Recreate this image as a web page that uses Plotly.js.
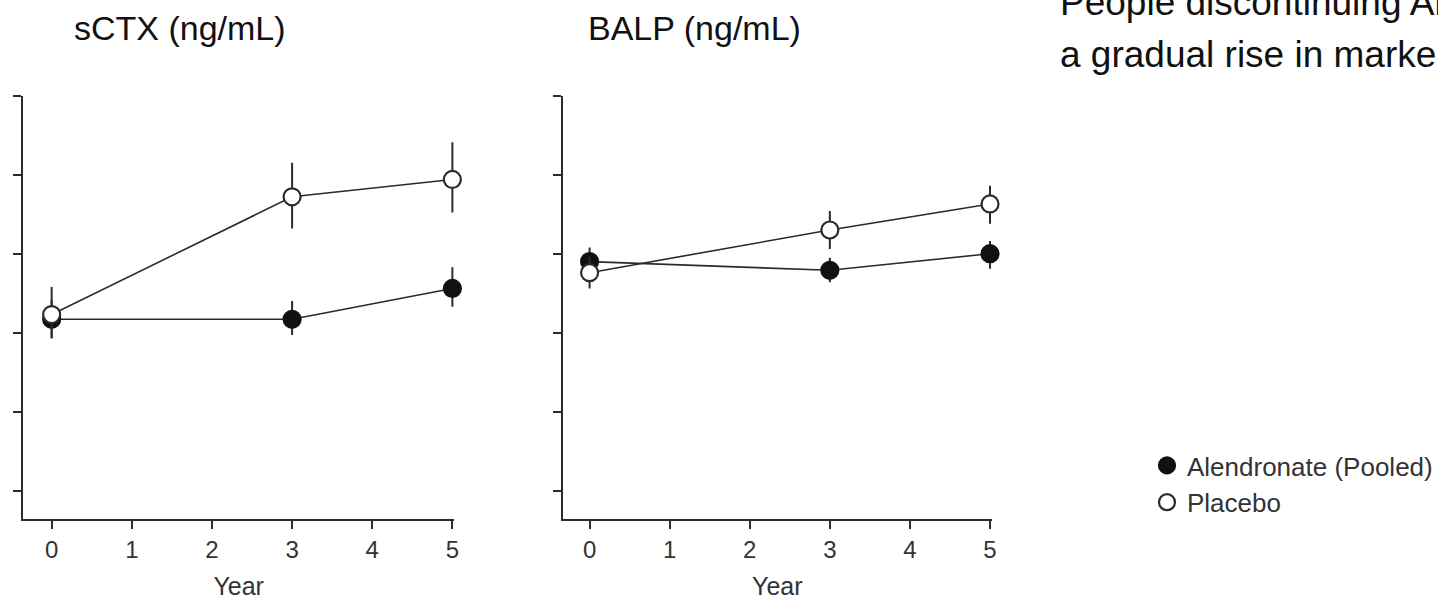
<!DOCTYPE html>
<html>
<head>
<meta charset="utf-8">
<script src="https://cdn.plot.ly/plotly-3.0.1.min.js"></script>
<style>
  html, body { margin: 0; padding: 0; background: #ffffff; }
  #chart { width: 1438px; height: 601px; }
</style>
</head>
<body>
<div id="chart"></div>
<script>
// ---- data (y in unlabeled axis units) ----
const years = [0, 3, 5];
const xTickVals = [0, 1, 2, 3, 4, 5];
const xTickLabels = ['0', '1', '2', '3', '4', '5'];
const yTickVals = [0, 1, 2, 3, 4, 5];
const seriesNames = ['Alendronate (Pooled)', 'Placebo'];
const panelTitles = ['sCTX (ng/mL)', 'BALP (ng/mL)'];
const xAxisTitle = 'Year';
const noteLines = ['People discontinuing Alendronate', 'a gradual rise in markers'];

const sctxAlendronate = [2.17, 2.17, 2.56];
const sctxAlendronateErrPlus = [0.24, 0.23, 0.27];
const sctxAlendronateErrMinus = [0.24, 0.20, 0.23];
const sctxPlacebo = [2.23, 3.72, 3.94];
const sctxPlaceboErrPlus = [0.35, 0.43, 0.47];
const sctxPlaceboErrMinus = [0.30, 0.40, 0.42];

const balpAlendronate = [2.90, 2.79, 3.00];
const balpAlendronateErrPlus = [0.18, 0.16, 0.16];
const balpAlendronateErrMinus = [0.15, 0.15, 0.19];
const balpPlacebo = [2.76, 3.30, 3.63];
const balpPlaceboErrPlus = [0.20, 0.24, 0.23];
const balpPlaceboErrMinus = [0.20, 0.24, 0.25];

// ---- styling ----
const FONT = '"Liberation Sans", Arial, Helvetica, sans-serif';
const INK = '#2b2b2b';
const W = 1438, H = 601;
const px = v => v / W;
const py = v => 1 - v / H;

function lineTrace(x, y, xa, ya) {
  return {
    x: x, y: y, xaxis: xa, yaxis: ya, type: 'scatter', mode: 'lines',
    line: { color: INK, width: 1.6 }, showlegend: false, hoverinfo: 'skip'
  };
}
function markerTrace(name, x, y, plus, minus, filled, xa, ya, showLegend) {
  return {
    name: name, x: x, y: y, xaxis: xa, yaxis: ya, type: 'scatter', mode: 'markers',
    cliponaxis: false,
    marker: {
      symbol: 'circle', size: 17,
      color: filled ? '#111111' : '#ffffff',
      line: { color: filled ? '#111111' : INK, width: 2.2 }
    },
    error_y: {
      type: 'data', symmetric: false, array: plus, arrayminus: minus,
      color: INK, thickness: 2, width: 0
    },
    showlegend: showLegend, legendgroup: name
  };
}

const data = [
  lineTrace(years, sctxAlendronate, 'x', 'y'),
  lineTrace(years, sctxPlacebo, 'x', 'y'),
  lineTrace(years, balpAlendronate, 'x2', 'y2'),
  lineTrace(years, balpPlacebo, 'x2', 'y2'),
  markerTrace(seriesNames[0], years, sctxAlendronate, sctxAlendronateErrPlus, sctxAlendronateErrMinus, true, 'x', 'y', true),
  markerTrace(seriesNames[1], years, sctxPlacebo, sctxPlaceboErrPlus, sctxPlaceboErrMinus, false, 'x', 'y', true),
  markerTrace(seriesNames[0], years, balpAlendronate, balpAlendronateErrPlus, balpAlendronateErrMinus, true, 'x2', 'y2', false),
  markerTrace(seriesNames[1], years, balpPlacebo, balpPlaceboErrPlus, balpPlaceboErrMinus, false, 'x2', 'y2', false)
];

function xAxis(domain, range, anchor) {
  return {
    domain: domain, range: range, anchor: anchor,
    tickmode: 'array', tickvals: xTickVals, ticktext: xTickLabels,
    ticks: 'outside', ticklen: 8, tickwidth: 2, tickcolor: INK,
    showline: true, linecolor: INK, linewidth: 2,
    showgrid: false, zeroline: false, fixedrange: true,
    tickfont: { family: FONT, size: 24, color: '#333333' },
    title: { text: xAxisTitle, font: { family: FONT, size: 25, color: '#333333' }, standoff: 16 }
  };
}
function yAxis(domain, range, anchor) {
  return {
    domain: domain, range: range, anchor: anchor,
    tickmode: 'array', tickvals: yTickVals, showticklabels: false,
    ticks: 'outside', ticklen: 8, tickwidth: 2, tickcolor: INK,
    showline: true, linecolor: INK, linewidth: 2,
    showgrid: false, zeroline: false, fixedrange: true
  };
}

const yDomain = [py(519), py(95.7)];
const yRange = [-0.358, 5];

const layout = {
  width: W, height: H,
  margin: { l: 0, r: 0, t: 0, b: 0, pad: 0 },
  paper_bgcolor: '#ffffff', plot_bgcolor: '#ffffff',
  font: { family: FONT, color: '#222222' },
  showlegend: true,
  xaxis: xAxis([px(23.3), px(454.3)], [-0.354, 5.02], 'y'),
  yaxis: yAxis(yDomain, yRange, 'x'),
  xaxis2: xAxis([px(563.3), px(992.3)], [-0.333, 5.02], 'y2'),
  yaxis2: yAxis(yDomain, yRange, 'x2'),
  legend: {
    x: px(1148), y: py(442), xanchor: 'left', yanchor: 'top',
    bgcolor: 'rgba(0,0,0,0)', borderwidth: 0,
    font: { family: FONT, size: 26, color: '#333333' },
    itemclick: false, itemdoubleclick: false, tracegroupgap: 0
  },
  annotations: [
    { text: panelTitles[0], xref: 'paper', yref: 'paper', x: px(72), y: py(28),
      xanchor: 'left', yanchor: 'middle', showarrow: false,
      font: { family: FONT, size: 34, color: '#111111' } },
    { text: panelTitles[1], xref: 'paper', yref: 'paper', x: px(586), y: py(28),
      xanchor: 'left', yanchor: 'middle', showarrow: false,
      font: { family: FONT, size: 34, color: '#111111' } },
    { text: noteLines[0], xref: 'paper', yref: 'paper', x: px(1059), y: py(3),
      xanchor: 'left', yanchor: 'middle', showarrow: false,
      font: { family: FONT, size: 37, color: '#111111' } },
    { text: noteLines[1], xref: 'paper', yref: 'paper', x: px(1059), y: py(54),
      xanchor: 'left', yanchor: 'middle', showarrow: false,
      font: { family: FONT, size: 37, color: '#111111' } }
  ]
};

Plotly.newPlot('chart', data, layout, { displayModeBar: false, staticPlot: true });
</script>
</body>
</html>
